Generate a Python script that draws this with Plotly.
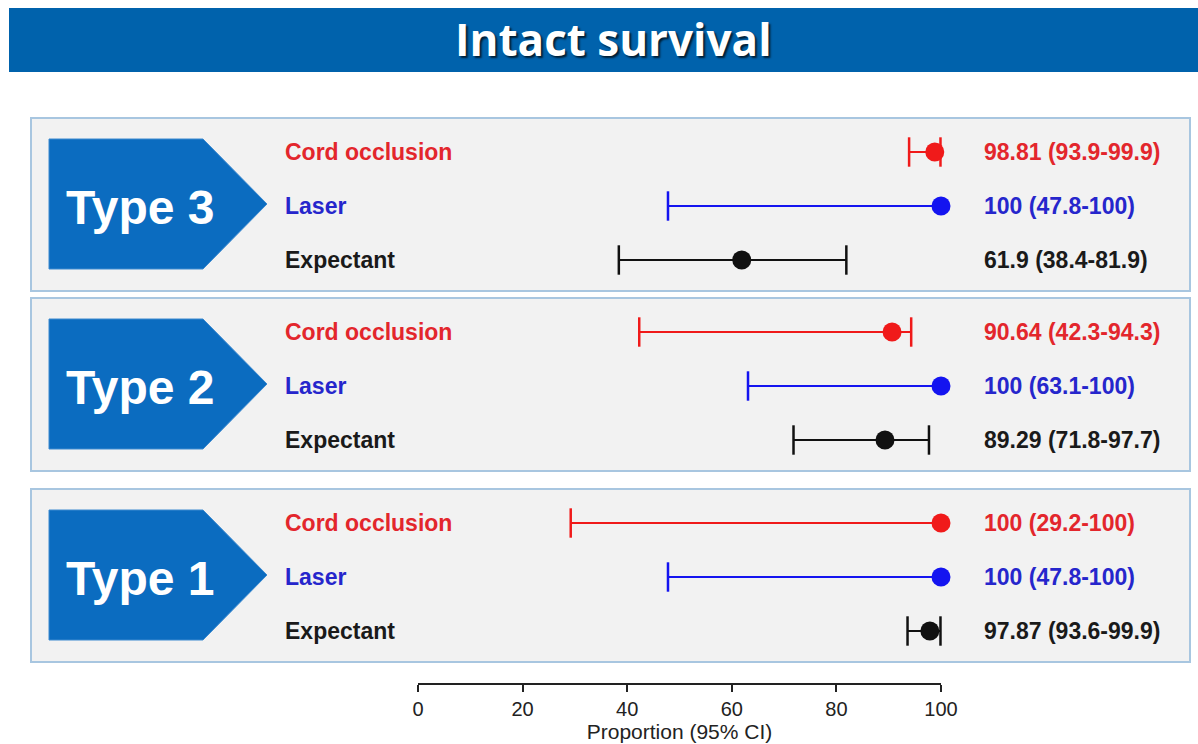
import plotly.graph_objects as go

# ---------------- data ----------------
groups = ["Type 3", "Type 2", "Type 1"]
treatments = ["Cord occlusion", "Laser", "Expectant"]

cord_est = [98.81, 90.64, 100]
cord_lo = [93.9, 42.3, 29.2]
cord_hi = [99.9, 94.3, 100]

laser_est = [100, 100, 100]
laser_lo = [47.8, 63.1, 47.8]
laser_hi = [100, 100, 100]

exp_est = [61.9, 89.29, 97.87]
exp_lo = [38.4, 71.8, 93.6]
exp_hi = [81.9, 97.7, 99.9]

x_ticks = [0, 20, 40, 60, 80, 100]

# ---------------- layout constants ----------------
W, H = 1198, 744
group_centers = [206, 386, 577]      # vertical centre of each panel's rows (px)
row_step = 54
panel_half = 86
arrow_half = 65

series = [
    ("Cord occlusion", cord_est, cord_lo, cord_hi, "#F01A1A", "#E3262C"),
    ("Laser", laser_est, laser_lo, laser_hi, "#1414F0", "#2626CC"),
    ("Expectant", exp_est, exp_lo, exp_hi, "#111111", "#1A1A1A"),
]


def px(x):
    return x / W


fig = go.Figure()

shapes = []
annotations = []

# title banner
shapes.append(dict(type="rect", xref="paper", yref="y", x0=px(9), x1=1.0, y0=8, y1=72,
                   fillcolor="#0062AC", line=dict(width=0), layer="below"))
annotations.append(dict(text="<b>Intact survival</b>", xref="paper", yref="y", x=px(613), y=39,
                        showarrow=False, xanchor="center", yanchor="middle",
                        font=dict(family="Open Sans", size=44, color="white",
                                  shadow="2px 2px 2px rgba(0,0,0,0.7)")))

for gi, g in enumerate(groups):
    yc = group_centers[gi]
    # panel box
    shapes.append(dict(type="rect", xref="paper", yref="y", x0=px(31), x1=px(1190),
                       y0=yc - panel_half - 2, y1=yc + panel_half - 1,
                       fillcolor="#F2F2F2", line=dict(color="#A8C6E0", width=2), layer="below"))
    # arrow
    ay = yc - 2
    path = (f"M {px(49)},{ay - arrow_half} L {px(203)},{ay - arrow_half} "
            f"L {px(267)},{ay} L {px(203)},{ay + arrow_half} L {px(49)},{ay + arrow_half} Z")
    shapes.append(dict(type="path", xref="paper", yref="y", path=path,
                       fillcolor="#0B6CC0", line=dict(color="#3C8AD0", width=1), layer="below"))
    annotations.append(dict(text=f"<b>{g}</b>", xref="paper", yref="y", x=px(140), y=ay + 3,
                            showarrow=False, xanchor="center", yanchor="middle",
                            font=dict(family="Liberation Sans", size=48, color="white")))

for ti, (name, est, lo, hi, mcol, tcol) in enumerate(series):
    ys = [group_centers[gi] + (ti - 1) * row_step for gi in range(len(groups))]
    # CI lines
    lx, ly = [], []
    for gi in range(len(groups)):
        lx += [lo[gi], hi[gi], None]
        ly += [ys[gi], ys[gi], None]
    fig.add_trace(go.Scatter(x=lx, y=ly, mode="lines", line=dict(color=mcol, width=2),
                             hoverinfo="skip", showlegend=False, cliponaxis=False))
    # caps
    cx, cy = [], []
    for gi in range(len(groups)):
        for b in (lo[gi], hi[gi]):
            if b != est[gi]:
                cx.append(b)
                cy.append(ys[gi])
    fig.add_trace(go.Scatter(x=cx, y=cy, mode="markers",
                             marker=dict(symbol="line-ns", size=21, line=dict(color=mcol, width=2.5)),
                             hoverinfo="skip", showlegend=False, cliponaxis=False))
    # point estimates
    fig.add_trace(go.Scatter(x=est, y=ys, mode="markers", name=name,
                             marker=dict(symbol="circle", size=19, color=mcol),
                             showlegend=False, cliponaxis=False))
    # labels and values
    for gi in range(len(groups)):
        annotations.append(dict(text=f"<b>{name}</b>", xref="paper", yref="y", x=px(283), y=ys[gi],
                                showarrow=False, xanchor="left", yanchor="middle",
                                font=dict(family="Liberation Sans", size=23, color=tcol)))
        txt = f"<b>{est[gi]:g} ({lo[gi]:g}-{hi[gi]:g})</b>"
        annotations.append(dict(text=txt, xref="paper", yref="y", x=px(982), y=ys[gi],
                                showarrow=False, xanchor="left", yanchor="middle",
                                font=dict(family="Liberation Sans", size=23, color=tcol)))

fig.update_layout(
    width=W, height=H, autosize=False,
    margin=dict(l=0, r=0, t=0, b=0, autoexpand=False),
    paper_bgcolor="white", plot_bgcolor="white",
    shapes=shapes, annotations=annotations,
    xaxis=dict(domain=[px(418), px(941)], range=[0, 100], anchor="free", automargin=False,
               position=(H - 684) / H, showgrid=False, zeroline=False,
               showline=True, linecolor="#222222", linewidth=2,
               ticks="outside", ticklen=7, tickwidth=2, tickcolor="#222222",
               tickvals=x_ticks, ticktext=[str(t) for t in x_ticks],
               tickfont=dict(family="Liberation Sans", size=20, color="#222222"),
               title=dict(text="Proportion (95% CI)", standoff=0,
                          font=dict(family="Liberation Sans", size=21, color="#222222"))),
    yaxis=dict(domain=[0, 1], range=[H, 0], visible=False, automargin=False,
               showgrid=False, zeroline=False),
)

fig.write_html(
    "out.html",
    config={"responsive": False, "displayModeBar": False},
    post_script="document.body.style.margin='0';document.body.style.padding='0';"
                "document.body.style.overflow='hidden';",
)
